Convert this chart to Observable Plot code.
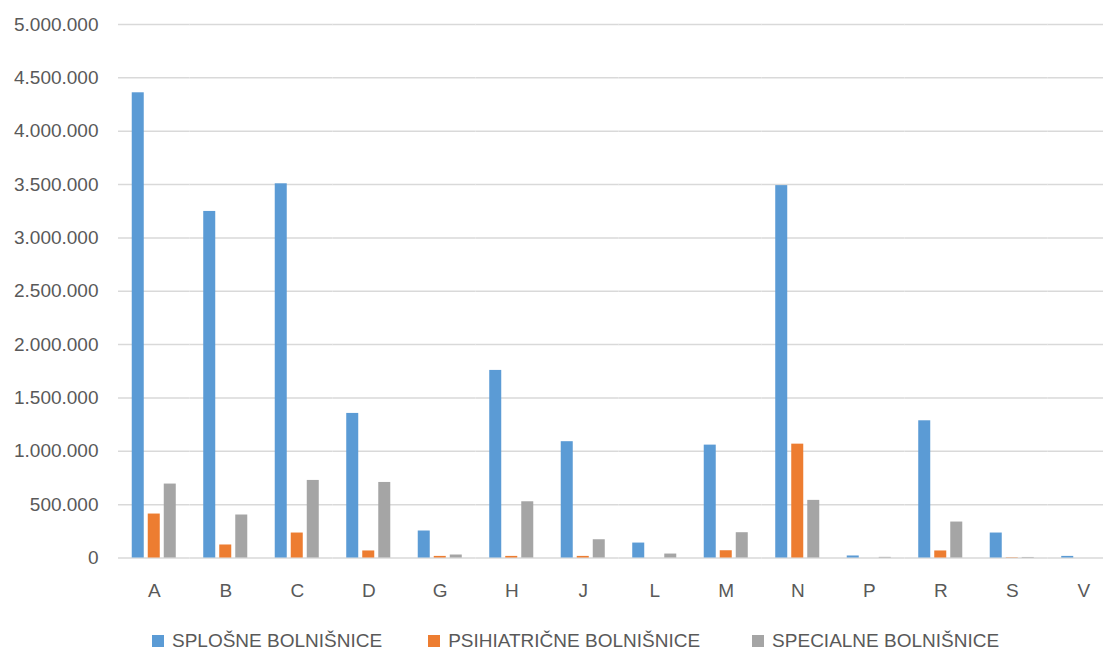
<!DOCTYPE html>
<html>
<head>
<meta charset="utf-8">
<script src="https://cdn.jsdelivr.net/npm/d3@7"></script>
<script src="https://cdn.jsdelivr.net/npm/@observablehq/plot@0.6"></script>
<style>
  html, body { margin: 0; padding: 0; background: #fff; overflow: hidden; }
  #wrap { position: relative; width: 1103px; height: 652px; overflow: hidden; }
  #chart { width: 1119px; }
  #chart svg { max-width: none !important; width: 1119px !important; height: 615px !important; }
  #legend { position: absolute; left: 152px; top: 630px; height: 22px; display: flex; align-items: center;
    font-family: "Liberation Sans", Arial, sans-serif; font-size: 19px; color: #595959; white-space: nowrap; }
  .item { display: flex; align-items: center; margin-right: 46px; }
  .item:nth-child(2) { margin-right: 52px; }
  .sw { width: 12px; height: 12px; margin-right: 8px; }
</style>
</head>
<body>
<div id="wrap"><div id="chart"></div><div id="legend"></div></div>
<script>
const categories = ["A","B","C","D","G","H","J","L","M","N","P","R","S","V"];
const seriesNames = ["SPLOŠNE BOLNIŠNICE", "PSIHIATRIČNE BOLNIŠNICE", "SPECIALNE BOLNIŠNICE"];
const seriesColors = ["#5B9BD5", "#ED7D31", "#A5A5A5"];
const splosne      = [4360000, 3248000, 3507000, 1355000, 253000, 1758000, 1090000, 140000, 1058000, 3490000, 19000, 1286000, 234000, 15000];
const psihiatricne = [412000, 122000, 234000, 66000, 15000, 15000, 15000, 0, 68000, 1067000, 0, 66000, 3000, 0];
const specialne    = [693000, 403000, 727000, 708000, 28000, 527000, 171000, 37000, 237000, 540000, 6000, 337000, 5000, 0];
const yTicks = [0, 500000, 1000000, 1500000, 2000000, 2500000, 3000000, 3500000, 4000000, 4500000, 5000000];

const seriesValues = [splosne, psihiatricne, specialne];
const data = categories.flatMap((c, i) => seriesNames.map((s, j) => ({cat: c, series: s, value: seriesValues[j][i]})));

const fmt = d3.formatLocale({decimal: ",", thousands: ".", grouping: [3], currency: ["", ""]}).format(",");

const chart = Plot.plot({
  width: 1119,
  height: 615,
  marginLeft: 118,
  marginRight: 0,
  marginTop: 24,
  marginBottom: 57.5,
  facet: {marginTop: 0, marginBottom: 0, marginLeft: 0, marginRight: 0},
  style: {fontFamily: "Liberation Sans, Arial, sans-serif", fontSize: "19px", color: "#595959", background: "#fff", maxWidth: "none"},
  fx: {domain: categories, padding: 0, round: false, label: null},
  x: {domain: seriesNames, paddingInner: 0.25, paddingOuter: 0.858, round: false, axis: null},
  y: {domain: [0, 5000000], label: null},
  color: {domain: seriesNames, range: seriesColors},
  marks: [
    Plot.ruleY(yTicks, {stroke: "#d9d9d9", strokeWidth: 1.5}),
    Plot.axisY({ticks: yTicks, tickSize: 0, tickPadding: 20, tickFormat: fmt, label: null, fill: "#595959"}),
    Plot.axisFx({anchor: "bottom", tickSize: 0, tickPadding: 25, label: null, fill: "#595959"}),
    Plot.barY(data, {fx: "cat", x: "series", y: "value", fill: "series"})
  ]
});
document.getElementById("chart").appendChild(chart);

const legend = document.getElementById("legend");
seriesNames.forEach((s, j) => {
  const it = document.createElement("div");
  it.className = "item";
  const sw = document.createElement("div");
  sw.className = "sw";
  sw.style.background = seriesColors[j];
  const t = document.createElement("span");
  t.textContent = s;
  it.appendChild(sw); it.appendChild(t);
  legend.appendChild(it);
});
</script>
</body>
</html>
